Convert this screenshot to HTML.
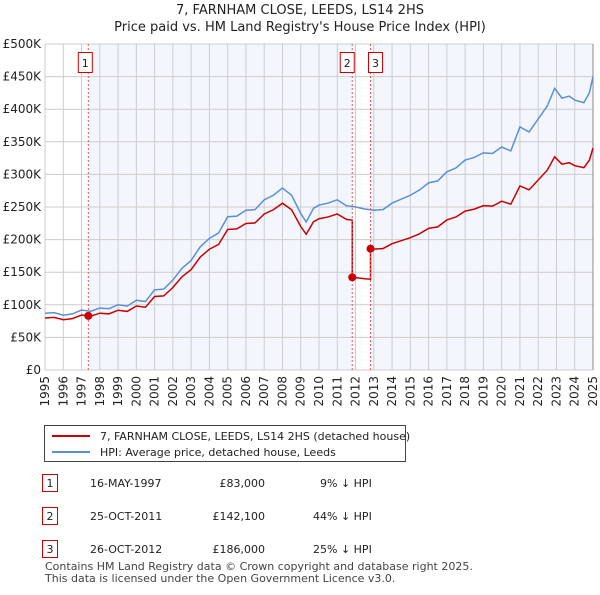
<!DOCTYPE html>
<html><head><meta charset="utf-8"><style>
body{margin:0;background:#fff;font-family:"Liberation Sans","DejaVu Sans",sans-serif;}
svg text{font-family:"DejaVu Sans","Liberation Sans",sans-serif;}
</style></head><body>
<svg id="c" width="600" height="590" viewBox="0 0 600 590" xmlns="http://www.w3.org/2000/svg">
<text x="300" y="14" text-anchor="middle" font-size="13" fill="#222">7, FARNHAM CLOSE, LEEDS, LS14 2HS</text>
<text x="300" y="31" text-anchor="middle" font-size="13" fill="#222">Price paid vs. HM Land Registry's House Price Index (HPI)</text>
<g id="plot"></g>
<g>
<rect x="44.5" y="425.5" width="361" height="36" fill="#fff" stroke="#444"/>
<line x1="52" y1="436" x2="90" y2="436" stroke="#cc0000" stroke-width="2"/>
<text x="100" y="440" font-size="11" fill="#222">7, FARNHAM CLOSE, LEEDS, LS14 2HS (detached house)</text>
<line x1="52" y1="452" x2="90" y2="452" stroke="#5b8fd6" stroke-width="2"/>
<text x="100" y="456" font-size="11" fill="#222">HPI: Average price, detached house, Leeds</text>
</g>
<g font-size="11" fill="#222">
<rect x="42.5" y="474.5" width="15" height="17" fill="#fff" stroke="#cc0000"/><text x="50" y="487" text-anchor="middle">1</text>
<text x="90" y="487">16-MAY-1997</text><text x="265" y="487" text-anchor="end">£83,000</text><text x="320" y="487">9% ↓ HPI</text>
<rect x="42.5" y="507.5" width="15" height="17" fill="#fff" stroke="#cc0000"/><text x="50" y="520" text-anchor="middle">2</text>
<text x="90" y="520">25-OCT-2011</text><text x="265" y="520" text-anchor="end">£142,100</text><text x="313" y="520">44% ↓ HPI</text>
<rect x="42.5" y="540.5" width="15" height="17" fill="#fff" stroke="#cc0000"/><text x="50" y="553" text-anchor="middle">3</text>
<text x="90" y="553">26-OCT-2012</text><text x="265" y="553" text-anchor="end">£186,000</text><text x="313" y="553">25% ↓ HPI</text>
</g>
<text x="45" y="570" font-size="11" fill="#444">Contains HM Land Registry data © Crown copyright and database right 2025.</text>
<text x="45" y="582" font-size="11" fill="#444">This data is licensed under the Open Government Licence v3.0.</text>
</svg>
<script>
const hpiYears=[1995,1995.5,1996,1996.5,1997,1997.5,1998,1998.5,1999,1999.5,2000,2000.5,2001,2001.5,2002,2002.5,2003,2003.5,2004,2004.5,2005,2005.5,2006,2006.5,2007,2007.5,2008,2008.5,2009,2009.3,2009.7,2010,2010.5,2011,2011.5,2012,2012.5,2013,2013.5,2014,2014.5,2015,2015.5,2016,2016.5,2017,2017.5,2018,2018.5,2019,2019.5,2020,2020.5,2021,2021.5,2022,2022.5,2022.9,2023.3,2023.7,2024,2024.5,2024.8,2025];
const hpiValues=[87,88,84,86,92,90,95,94,100,98,107,105,123,124,138,156,168,189,202,210,235,236,245,246,261,268,279,268,240,227,248,253,256,261,252,250,247,245,246,256,262,268,276,287,290,304,310,322,326,333,332,342,336,373,365,385,405,432,417,420,414,410,425,450];
const saleYears=[1997.37,2011.82,2012.82];
const salePrices=[83000,142100,186000];
const yTicks=[0,50,100,150,200,250,300,350,400,450,500];
const yLabels=["£0","£50K","£100K","£150K","£200K","£250K","£300K","£350K","£400K","£450K","£500K"];
const xTicks=[1995,1996,1997,1998,1999,2000,2001,2002,2003,2004,2005,2006,2007,2008,2009,2010,2011,2012,2013,2014,2015,2016,2017,2018,2019,2020,2021,2022,2023,2024,2025];
const X0=45,X1=593,Y0=370,Y1=44;
const xs=y=>X0+(y-1995)/30*(X1-X0);
const ys=v=>Y0-v/500*(Y0-Y1);
const NS='http://www.w3.org/2000/svg';
const g=document.getElementById('plot');
function mk(t,a,p){const e=document.createElementNS(NS,t);for(const k in a)e.setAttribute(k,a[k]);(p||g).appendChild(e);return e;}
function hpiAt(y){for(let i=0;i<hpiYears.length-1;i++){if(y<=hpiYears[i+1]){const t=(y-hpiYears[i])/(hpiYears[i+1]-hpiYears[i]);return hpiValues[i]+t*(hpiValues[i+1]-hpiValues[i]);}}return hpiValues[hpiValues.length-1];}
// shading
const s1=mk('rect',{x:xs(saleYears[0]),y:Y1,width:xs(saleYears[1])-xs(saleYears[0]),height:Y0-Y1,fill:'#eef3fc',opacity:0.7});


const s2=mk('rect',{x:xs(saleYears[2]),y:Y1,width:X1-xs(saleYears[2]),height:Y0-Y1,fill:'#eef3fc',opacity:0.7});


// grid
xTicks.forEach((t,i)=>{
 const l=mk('line',{x1:xs(t),x2:xs(t),y1:Y1,y2:Y0,stroke:'#ccc','stroke-width':1});
 
 
 const tx=mk('text',{x:0,y:0,'font-size':12,fill:'#222','text-anchor':'end',transform:`translate(${xs(t)+4},${Y0+6}) rotate(-90)`});
 tx.textContent=t;
 
 
});
yTicks.forEach((t,i)=>{
 const l=mk('line',{x1:X0,x2:X1,y1:ys(t),y2:ys(t),stroke:'#ccc','stroke-width':1});
 
 
 const tx=mk('text',{x:X0-4,y:ys(t)+4,'font-size':12,fill:'#222','text-anchor':'end'});
 tx.textContent=yLabels[i];
 
 
});
mk('line',{x1:X1,x2:X1,y1:Y1,y2:Y0,stroke:'#888','stroke-width':1});
// hpi line
const hp=mk('polyline',{points:hpiYears.map((y,i)=>xs(y)+','+ys(hpiValues[i])).join(' '),fill:'none',stroke:'#5b8fd6','stroke-width':1.5});


// price line: indexed from each sale
function ratio(k){return salePrices[k]/1000/hpiAt(saleYears[k]);}
const pts=[];
hpiYears.forEach((y,i)=>{
 let k=y<saleYears[1]?0:(y<saleYears[2]?1:2);
 if(y>=saleYears[0]||k===0) pts.push([y,hpiValues[i]*ratio(k)]);
 if(i<hpiYears.length-1){saleYears.forEach((sy,j)=>{if(j>0&&sy>y&&sy<=hpiYears[i+1]){pts.push([sy,hpiAt(sy)*ratio(j-1)]);pts.push([sy,salePrices[j]/1000]);}});}
});
const pp=mk('polyline',{points:pts.map(p=>xs(p[0])+','+ys(p[1])).join(' '),fill:'none',stroke:'#cc0000','stroke-width':1.5});


saleYears.forEach((sy,j)=>{
 const v=mk('line',{x1:xs(sy),x2:xs(sy),y1:Y1,y2:Y0,stroke:'#ee5555','stroke-width':1,'stroke-dasharray':'2,2'});
 
 
 const d=mk('circle',{cx:xs(sy),cy:ys(salePrices[j]/1000),r:4,fill:'#cc0000'});
 
 
 const off=j===1?-5:(j===2?5:-3);
 const b=mk('rect',{x:xs(sy)+off-7,y:52.5,width:14,height:20,fill:'#fff',stroke:'#cc0000'});
 
 
 const t=mk('text',{x:xs(sy)+off,y:67,'font-size':11,fill:'#222','text-anchor':'middle'});
 t.textContent=String(j+1);
 
 
});
</script>
</body></html>
